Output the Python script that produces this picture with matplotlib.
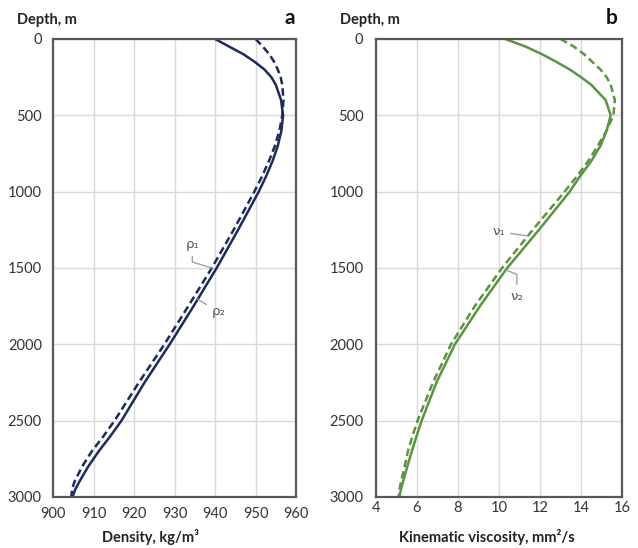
import matplotlib
matplotlib.use("Agg")
import matplotlib.pyplot as plt
import numpy as np

plt.rcParams['font.family'] = ['Lato', 'DejaVu Sans']

# depth points (m)
depth = [0, 50, 100, 150, 200, 250, 300, 400, 500, 600, 700, 800, 900, 1000,
         1250, 1500, 1750, 2000, 2250, 2500, 2600, 2700, 2800, 2900, 2950, 3000]

# panel a: density, kg/m3
rho1 = [950.0, 951.8, 953.4, 954.6, 955.5, 956.2, 956.6, 956.9, 956.6, 955.9,
        954.8, 953.3, 951.6, 949.7, 944.6, 939.2, 933.4, 927.5, 921.2, 915.2,
        912.5, 909.6, 907.2, 905.3, 904.7, 904.5]
rho2 = [940.0, 943.5, 947.0, 949.8, 952.2, 953.9, 955.0, 956.3, 956.8, 956.4,
        955.5, 954.2, 952.6, 950.8, 945.7, 940.4, 934.7, 928.8, 922.6, 916.9,
        914.2, 911.3, 908.7, 906.5, 905.5, 904.8]

# panel b: kinematic viscosity, mm2/s
nu1 = [13.0, 13.65, 14.15, 14.55, 14.95, 15.25, 15.45, 15.65, 15.58, 15.25,
       14.82, 14.35, 13.8, 13.2, 11.65, 10.15, 8.82, 7.66, 6.78, 6.03,
       5.78, 5.56, 5.40, 5.22, 5.15, 5.10]
nu2 = [10.3, 11.3, 12.1, 12.8, 13.45, 14.0, 14.5, 15.2, 15.45, 15.25,
       14.95, 14.5, 13.95, 13.45, 11.95, 10.4, 9.07, 7.85, 6.95, 6.23,
       5.98, 5.75, 5.53, 5.32, 5.22, 5.14]

navy = '#1d2b5b'
green = '#5b9440'
grid_c = '#d9d9d9'
spine_c = '#595959'
note_c = '#555555'
lead_c = '#a0a0a0'

fig = plt.figure(figsize=(6.38, 5.48), dpi=100)
ax_a = fig.add_axes([0.0831, 0.0931, 0.3809, 0.8358])
ax_b = fig.add_axes([0.5893, 0.0931, 0.3856, 0.8358])


def style(ax, xlim, xticks, xpad, ypad):
    ax.set_ylim(3000, 0)
    ax.set_xlim(*xlim)
    ax.set_xticks(xticks)
    ax.set_yticks(range(0, 3001, 500))
    ax.grid(True, color=grid_c, lw=1)
    ax.set_axisbelow(True)
    ax.tick_params(length=0, labelsize=10.5, colors='#333333')
    ax.tick_params(axis='x', pad=xpad)
    ax.tick_params(axis='y', pad=ypad)
    for s in ax.spines.values():
        s.set_color(spine_c)
        s.set_linewidth(1.6)


style(ax_a, (900, 960), range(900, 961, 10), 7, 8)
style(ax_b, (4, 16), range(4, 17, 2), 3, 9)

ax_a.plot(rho2, depth, color=navy, lw=1.8)
ax_a.plot(rho1, depth, color=navy, lw=1.8, ls=(0, (3, 1.6)))
ax_b.plot(nu2, depth, color=green, lw=1.8)
ax_b.plot(nu1, depth, color=green, lw=1.8, ls=(0, (3, 1.6)))

for ax, letter, lx in [(ax_a, 'a', 0.975), (ax_b, 'b', 0.96)]:
    ax.text(-0.148, 1.041, 'Depth, m', transform=ax.transAxes, ha='left',
            va='center', fontsize=10.5, fontweight='bold', color='#222222')
    ax.text(lx, 1.045, letter, transform=ax.transAxes, ha='center',
            va='center', fontsize=15, fontweight='bold', color='#111111')

ax_a.text(0.40, -0.087, 'Density, kg/m³', transform=ax_a.transAxes,
          ha='center', va='center', fontsize=10.5, fontweight='bold', color='#222222')
ax_b.text(0.45, -0.087, 'Kinematic viscosity, mm²/s', transform=ax_b.transAxes,
          ha='center', va='center', fontsize=10.5, fontweight='bold', color='#222222')


def note(ax, label, xs, d, off, conn):
    x = np.interp(d, depth, xs)
    ax.annotate(label, xy=(x, d), xytext=off, textcoords='offset points',
                ha='center', va='center', fontsize=9.5, color=note_c,
                family=['DejaVu Sans'],
                arrowprops=dict(arrowstyle='-', color=lead_c, lw=1,
                                shrinkA=2, shrinkB=0, connectionstyle=conn))


note(ax_a, 'ρ₁', rho1, 1500, (-14, 17), 'angle,angleA=90,angleB=163,rad=0')
note(ax_a, 'ρ₂', rho2, 1705, (15, -9), 'arc3')
note(ax_b, 'ν₁', nu1, 1290, (-21, 3), 'arc3')
note(ax_b, 'ν₂', nu2, 1513, (8, -19), 'angle,angleA=90,angleB=-22,rad=0')

fig.savefig('out.png', dpi=100)
